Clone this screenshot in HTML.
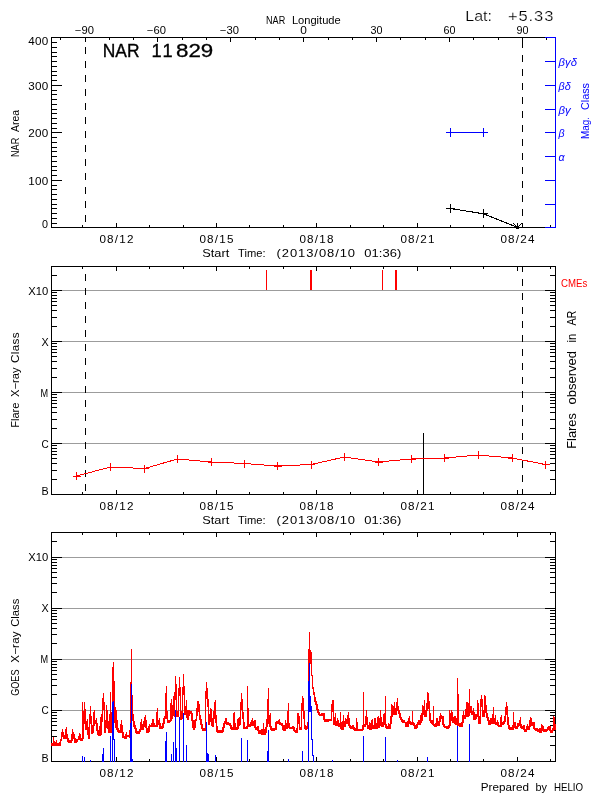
<!DOCTYPE html>
<html><head><meta charset="utf-8"><title>NAR 11829</title>
<style>
html,body{margin:0;padding:0;background:#fff;}
svg{display:block;font-family:"Liberation Sans",sans-serif;will-change:transform;}
rect,polyline,path{shape-rendering:crispEdges;}
</style></head><body>
<svg width="600" height="800" viewBox="0 0 600 800">
<rect x="0" y="0" width="600" height="800" fill="#ffffff"/>
<rect x="51" y="37" width="505" height="1" fill="#000"/>
<rect x="51" y="227" width="505" height="1" fill="#000"/>
<rect x="51" y="37" width="1" height="191" fill="#000"/>
<rect x="555" y="37" width="1" height="191" fill="#000"/>
<rect x="545" y="37" width="11" height="1" fill="#0000ff"/>
<rect x="545" y="227" width="11" height="1" fill="#0000ff"/>
<rect x="555" y="37" width="1" height="191" fill="#0000ff"/>
<rect x="82" y="225" width="1" height="2" fill="#000"/>
<rect x="116" y="223" width="1" height="4" fill="#000"/>
<text transform="translate(99.4 242.7) scale(1.1 1)" font-size="10.6" fill="#000" textLength="30.9" lengthAdjust="spacing" >08/12</text>
<rect x="149" y="225" width="1" height="2" fill="#000"/>
<rect x="183" y="225" width="1" height="2" fill="#000"/>
<rect x="216" y="223" width="1" height="4" fill="#000"/>
<text transform="translate(199.4 242.7) scale(1.1 1)" font-size="10.6" fill="#000" textLength="30.9" lengthAdjust="spacing" >08/15</text>
<rect x="249" y="225" width="1" height="2" fill="#000"/>
<rect x="283" y="225" width="1" height="2" fill="#000"/>
<rect x="316" y="223" width="1" height="4" fill="#000"/>
<text transform="translate(299.4 242.7) scale(1.1 1)" font-size="10.6" fill="#000" textLength="30.9" lengthAdjust="spacing" >08/18</text>
<rect x="350" y="225" width="1" height="2" fill="#000"/>
<rect x="383" y="225" width="1" height="2" fill="#000"/>
<rect x="417" y="223" width="1" height="4" fill="#000"/>
<text transform="translate(400.4 242.7) scale(1.1 1)" font-size="10.6" fill="#000" textLength="30.9" lengthAdjust="spacing" >08/21</text>
<rect x="450" y="225" width="1" height="2" fill="#000"/>
<rect x="483" y="225" width="1" height="2" fill="#000"/>
<rect x="517" y="223" width="1" height="4" fill="#000"/>
<text transform="translate(500.4 242.7) scale(1.1 1)" font-size="10.6" fill="#000" textLength="30.9" lengthAdjust="spacing" >08/24</text>
<rect x="550" y="225" width="1" height="2" fill="#000"/>
<rect x="60" y="38" width="1" height="2" fill="#000"/>
<rect x="85" y="38" width="1" height="4" fill="#000"/>
<text x="75.0" y="34.0" font-size="10.2" fill="#000" textLength="19.0" lengthAdjust="spacingAndGlyphs" >&#8722;90</text>
<rect x="109" y="38" width="1" height="2" fill="#000"/>
<rect x="133" y="38" width="1" height="2" fill="#000"/>
<rect x="157" y="38" width="1" height="4" fill="#000"/>
<text x="147.0" y="34.0" font-size="10.2" fill="#000" textLength="19.0" lengthAdjust="spacingAndGlyphs" >&#8722;60</text>
<rect x="182" y="38" width="1" height="2" fill="#000"/>
<rect x="206" y="38" width="1" height="2" fill="#000"/>
<rect x="230" y="38" width="1" height="4" fill="#000"/>
<text x="220.0" y="34.0" font-size="10.2" fill="#000" textLength="19.0" lengthAdjust="spacingAndGlyphs" >&#8722;30</text>
<rect x="255" y="38" width="1" height="2" fill="#000"/>
<rect x="279" y="38" width="1" height="2" fill="#000"/>
<rect x="303" y="38" width="1" height="4" fill="#000"/>
<text x="300.2" y="34.0" font-size="10.2" fill="#000" textLength="6.6" lengthAdjust="spacingAndGlyphs" >0</text>
<rect x="328" y="38" width="1" height="2" fill="#000"/>
<rect x="352" y="38" width="1" height="2" fill="#000"/>
<rect x="376" y="38" width="1" height="4" fill="#000"/>
<text x="370.5" y="34.0" font-size="10.2" fill="#000" textLength="12.0" lengthAdjust="spacingAndGlyphs" >30</text>
<rect x="400" y="38" width="1" height="2" fill="#000"/>
<rect x="425" y="38" width="1" height="2" fill="#000"/>
<rect x="449" y="38" width="1" height="4" fill="#000"/>
<text x="443.5" y="34.0" font-size="10.2" fill="#000" textLength="12.0" lengthAdjust="spacingAndGlyphs" >60</text>
<rect x="473" y="38" width="1" height="2" fill="#000"/>
<rect x="498" y="38" width="1" height="2" fill="#000"/>
<rect x="522" y="38" width="1" height="4" fill="#000"/>
<text x="516.5" y="34.0" font-size="10.2" fill="#000" textLength="12.0" lengthAdjust="spacingAndGlyphs" >90</text>
<rect x="546" y="38" width="1" height="2" fill="#000"/>
<rect x="51" y="223" width="6" height="1" fill="#000"/>
<rect x="51" y="218" width="6" height="1" fill="#000"/>
<rect x="51" y="213" width="6" height="1" fill="#000"/>
<rect x="51" y="208" width="6" height="1" fill="#000"/>
<rect x="51" y="204" width="6" height="1" fill="#000"/>
<rect x="51" y="199" width="6" height="1" fill="#000"/>
<rect x="51" y="194" width="6" height="1" fill="#000"/>
<rect x="51" y="189" width="6" height="1" fill="#000"/>
<rect x="51" y="185" width="6" height="1" fill="#000"/>
<rect x="51" y="180" width="11" height="1" fill="#000"/>
<rect x="51" y="175" width="6" height="1" fill="#000"/>
<rect x="51" y="170" width="6" height="1" fill="#000"/>
<rect x="51" y="166" width="6" height="1" fill="#000"/>
<rect x="51" y="161" width="6" height="1" fill="#000"/>
<rect x="51" y="156" width="6" height="1" fill="#000"/>
<rect x="51" y="151" width="6" height="1" fill="#000"/>
<rect x="51" y="147" width="6" height="1" fill="#000"/>
<rect x="51" y="142" width="6" height="1" fill="#000"/>
<rect x="51" y="137" width="6" height="1" fill="#000"/>
<rect x="51" y="132" width="11" height="1" fill="#000"/>
<rect x="51" y="128" width="6" height="1" fill="#000"/>
<rect x="51" y="123" width="6" height="1" fill="#000"/>
<rect x="51" y="118" width="6" height="1" fill="#000"/>
<rect x="51" y="113" width="6" height="1" fill="#000"/>
<rect x="51" y="109" width="6" height="1" fill="#000"/>
<rect x="51" y="104" width="6" height="1" fill="#000"/>
<rect x="51" y="99" width="6" height="1" fill="#000"/>
<rect x="51" y="94" width="6" height="1" fill="#000"/>
<rect x="51" y="90" width="6" height="1" fill="#000"/>
<rect x="51" y="85" width="11" height="1" fill="#000"/>
<rect x="51" y="80" width="6" height="1" fill="#000"/>
<rect x="51" y="75" width="6" height="1" fill="#000"/>
<rect x="51" y="71" width="6" height="1" fill="#000"/>
<rect x="51" y="66" width="6" height="1" fill="#000"/>
<rect x="51" y="61" width="6" height="1" fill="#000"/>
<rect x="51" y="56" width="6" height="1" fill="#000"/>
<rect x="51" y="52" width="6" height="1" fill="#000"/>
<rect x="51" y="47" width="6" height="1" fill="#000"/>
<rect x="51" y="42" width="6" height="1" fill="#000"/>
<text transform="translate(28.2 44.8) scale(1.1 1)" font-size="10.6" fill="#000" textLength="18.2" lengthAdjust="spacing" >400</text>
<text transform="translate(28.2 89.7) scale(1.1 1)" font-size="10.6" fill="#000" textLength="18.2" lengthAdjust="spacing" >300</text>
<text transform="translate(28.2 137.0) scale(1.1 1)" font-size="10.6" fill="#000" textLength="18.2" lengthAdjust="spacing" >200</text>
<text transform="translate(28.2 184.7) scale(1.1 1)" font-size="10.6" fill="#000" textLength="18.2" lengthAdjust="spacing" >100</text>
<text x="42.0" y="227.8" font-size="10.6" fill="#000" textLength="6.0" lengthAdjust="spacingAndGlyphs" >0</text>
<rect x="545" y="204" width="11" height="1" fill="#0000ff"/>
<rect x="545" y="180" width="11" height="1" fill="#0000ff"/>
<rect x="545" y="156" width="11" height="1" fill="#0000ff"/>
<text x="558.6" y="160.6" font-size="10.0" fill="#0000ff" textLength="6.1" lengthAdjust="spacingAndGlyphs" font-style="italic">&#945;</text>
<rect x="545" y="132" width="11" height="1" fill="#0000ff"/>
<text x="558.6" y="136.6" font-size="10.0" fill="#0000ff" textLength="6.1" lengthAdjust="spacingAndGlyphs" font-style="italic">&#946;</text>
<rect x="545" y="109" width="11" height="1" fill="#0000ff"/>
<text x="558.6" y="113.6" font-size="10.0" fill="#0000ff" textLength="12.2" lengthAdjust="spacingAndGlyphs" font-style="italic">&#946;&#947;</text>
<rect x="545" y="85" width="11" height="1" fill="#0000ff"/>
<text x="558.6" y="89.6" font-size="10.0" fill="#0000ff" textLength="12.2" lengthAdjust="spacingAndGlyphs" font-style="italic">&#946;&#948;</text>
<rect x="545" y="61" width="11" height="1" fill="#0000ff"/>
<text x="558.6" y="65.6" font-size="10.0" fill="#0000ff" textLength="18.3" lengthAdjust="spacingAndGlyphs" font-style="italic">&#946;&#947;&#948;</text>
<text transform="translate(589.3 139.0) rotate(-90)" font-size="10.6" fill="#0000ff" textLength="22.0" lengthAdjust="spacingAndGlyphs">Mag.</text>
<text transform="translate(589.3 110.0) rotate(-90)" font-size="10.6" fill="#0000ff" textLength="26.9" lengthAdjust="spacingAndGlyphs">Class</text>
<text transform="translate(19.4 157.0) rotate(-90)" font-size="10.6" fill="#000" textLength="19.2" lengthAdjust="spacingAndGlyphs">NAR</text>
<text transform="translate(19.4 132.0) rotate(-90)" font-size="10.6" fill="#000" textLength="22.0" lengthAdjust="spacingAndGlyphs">Area</text>
<text x="266.0" y="24.0" font-size="10.6" fill="#000" textLength="19.2" lengthAdjust="spacingAndGlyphs" >NAR</text>
<text x="291.9" y="24.0" font-size="10.6" fill="#000" textLength="48.8" lengthAdjust="spacingAndGlyphs" >Longitude</text>
<text x="465.3" y="20.8" font-size="15" fill="#000" textLength="26.7" lengthAdjust="spacingAndGlyphs" stroke="#fff" stroke-width="0.2">Lat:</text>
<text transform="translate(508.0 20.8) scale(1.1 1)" font-size="15" fill="#000" textLength="41.2" lengthAdjust="spacing" stroke="#fff" stroke-width="0.2">+5.33</text>
<text x="102.8" y="57.4" font-size="18.2" fill="#000" textLength="36.7" lengthAdjust="spacingAndGlyphs" stroke="#000" stroke-width="0.35">NAR</text>
<text x="151.5" y="57.4" font-size="18.2" fill="#000" textLength="21.0" lengthAdjust="spacing" stroke="#000" stroke-width="0.35">11</text>
<text x="176.0" y="57.4" font-size="18.2" fill="#000" textLength="37.3" lengthAdjust="spacingAndGlyphs" stroke="#000" stroke-width="0.3">829</text>
<text x="202.3" y="257.0" font-size="11.8" fill="#000" textLength="27.0" lengthAdjust="spacingAndGlyphs" >Start</text>
<text x="238.1" y="257.0" font-size="11.8" fill="#000" textLength="27.5" lengthAdjust="spacingAndGlyphs" >Time:</text>
<text transform="translate(276.6 257.0) scale(1.1 1)" font-size="11.8" fill="#000" textLength="71.3" lengthAdjust="spacing" >(2013/08/10</text>
<text transform="translate(364.2 257.0) scale(1.1 1)" font-size="11.8" fill="#000" textLength="33.8" lengthAdjust="spacing" >01:36)</text>
<rect x="85" y="38" width="1" height="2" fill="#000"/>
<rect x="85" y="47" width="1" height="7" fill="#000"/>
<rect x="85" y="61" width="1" height="7" fill="#000"/>
<rect x="85" y="75" width="1" height="7" fill="#000"/>
<rect x="85" y="89" width="1" height="7" fill="#000"/>
<rect x="85" y="103" width="1" height="7" fill="#000"/>
<rect x="85" y="117" width="1" height="7" fill="#000"/>
<rect x="85" y="131" width="1" height="7" fill="#000"/>
<rect x="85" y="145" width="1" height="7" fill="#000"/>
<rect x="85" y="159" width="1" height="7" fill="#000"/>
<rect x="85" y="173" width="1" height="7" fill="#000"/>
<rect x="85" y="187" width="1" height="7" fill="#000"/>
<rect x="85" y="201" width="1" height="7" fill="#000"/>
<rect x="85" y="215" width="1" height="7" fill="#000"/>
<rect x="522" y="41" width="1" height="7" fill="#000"/>
<rect x="522" y="55" width="1" height="7" fill="#000"/>
<rect x="522" y="69" width="1" height="7" fill="#000"/>
<rect x="522" y="83" width="1" height="7" fill="#000"/>
<rect x="522" y="97" width="1" height="7" fill="#000"/>
<rect x="522" y="111" width="1" height="7" fill="#000"/>
<rect x="522" y="125" width="1" height="7" fill="#000"/>
<rect x="522" y="139" width="1" height="7" fill="#000"/>
<rect x="522" y="153" width="1" height="7" fill="#000"/>
<rect x="522" y="167" width="1" height="7" fill="#000"/>
<rect x="522" y="181" width="1" height="7" fill="#000"/>
<rect x="522" y="195" width="1" height="7" fill="#000"/>
<rect x="522" y="209" width="1" height="7" fill="#000"/>
<rect x="522" y="223" width="1" height="4" fill="#000"/>
<rect x="446" y="132" width="42" height="1" fill="#0000ff"/>
<rect x="450" y="128" width="1" height="9" fill="#0000ff"/>
<rect x="483" y="128" width="1" height="9" fill="#0000ff"/>
<polyline points="450.5,208.5 483.5,213.8 517.5,227.5" fill="none" stroke="#000" stroke-width="1.1" />
<rect x="446" y="208" width="9" height="1" fill="#000"/>
<rect x="450" y="204" width="1" height="9" fill="#000"/>
<rect x="479" y="213" width="9" height="1" fill="#000"/>
<rect x="483" y="209" width="1" height="9" fill="#000"/>
<polyline points="513.5,223.5 517.5,227.5 521.5,223.5" fill="none" stroke="#000" stroke-width="1.1" />
<rect x="516" y="227" width="3" height="2" fill="#000"/>
<rect x="52" y="443" width="503" height="1" fill="#9c9c9c"/>
<rect x="52" y="392" width="503" height="1" fill="#9c9c9c"/>
<rect x="52" y="341" width="503" height="1" fill="#9c9c9c"/>
<rect x="52" y="290" width="503" height="1" fill="#9c9c9c"/>
<rect x="51" y="479" width="6" height="1" fill="#000"/>
<rect x="550" y="479" width="6" height="1" fill="#000"/>
<rect x="51" y="470" width="6" height="1" fill="#000"/>
<rect x="550" y="470" width="6" height="1" fill="#000"/>
<rect x="51" y="463" width="6" height="1" fill="#000"/>
<rect x="550" y="463" width="6" height="1" fill="#000"/>
<rect x="51" y="458" width="6" height="1" fill="#000"/>
<rect x="550" y="458" width="6" height="1" fill="#000"/>
<rect x="51" y="454" width="6" height="1" fill="#000"/>
<rect x="550" y="454" width="6" height="1" fill="#000"/>
<rect x="51" y="451" width="6" height="1" fill="#000"/>
<rect x="550" y="451" width="6" height="1" fill="#000"/>
<rect x="51" y="448" width="6" height="1" fill="#000"/>
<rect x="550" y="448" width="6" height="1" fill="#000"/>
<rect x="51" y="445" width="6" height="1" fill="#000"/>
<rect x="550" y="445" width="6" height="1" fill="#000"/>
<rect x="51" y="443" width="11" height="1" fill="#000"/>
<rect x="545" y="443" width="11" height="1" fill="#000"/>
<rect x="51" y="428" width="6" height="1" fill="#000"/>
<rect x="550" y="428" width="6" height="1" fill="#000"/>
<rect x="51" y="419" width="6" height="1" fill="#000"/>
<rect x="550" y="419" width="6" height="1" fill="#000"/>
<rect x="51" y="412" width="6" height="1" fill="#000"/>
<rect x="550" y="412" width="6" height="1" fill="#000"/>
<rect x="51" y="407" width="6" height="1" fill="#000"/>
<rect x="550" y="407" width="6" height="1" fill="#000"/>
<rect x="51" y="403" width="6" height="1" fill="#000"/>
<rect x="550" y="403" width="6" height="1" fill="#000"/>
<rect x="51" y="400" width="6" height="1" fill="#000"/>
<rect x="550" y="400" width="6" height="1" fill="#000"/>
<rect x="51" y="397" width="6" height="1" fill="#000"/>
<rect x="550" y="397" width="6" height="1" fill="#000"/>
<rect x="51" y="394" width="6" height="1" fill="#000"/>
<rect x="550" y="394" width="6" height="1" fill="#000"/>
<rect x="51" y="392" width="11" height="1" fill="#000"/>
<rect x="545" y="392" width="11" height="1" fill="#000"/>
<rect x="51" y="377" width="6" height="1" fill="#000"/>
<rect x="550" y="377" width="6" height="1" fill="#000"/>
<rect x="51" y="368" width="6" height="1" fill="#000"/>
<rect x="550" y="368" width="6" height="1" fill="#000"/>
<rect x="51" y="361" width="6" height="1" fill="#000"/>
<rect x="550" y="361" width="6" height="1" fill="#000"/>
<rect x="51" y="356" width="6" height="1" fill="#000"/>
<rect x="550" y="356" width="6" height="1" fill="#000"/>
<rect x="51" y="352" width="6" height="1" fill="#000"/>
<rect x="550" y="352" width="6" height="1" fill="#000"/>
<rect x="51" y="349" width="6" height="1" fill="#000"/>
<rect x="550" y="349" width="6" height="1" fill="#000"/>
<rect x="51" y="346" width="6" height="1" fill="#000"/>
<rect x="550" y="346" width="6" height="1" fill="#000"/>
<rect x="51" y="343" width="6" height="1" fill="#000"/>
<rect x="550" y="343" width="6" height="1" fill="#000"/>
<rect x="51" y="341" width="11" height="1" fill="#000"/>
<rect x="545" y="341" width="11" height="1" fill="#000"/>
<rect x="51" y="326" width="6" height="1" fill="#000"/>
<rect x="550" y="326" width="6" height="1" fill="#000"/>
<rect x="51" y="317" width="6" height="1" fill="#000"/>
<rect x="550" y="317" width="6" height="1" fill="#000"/>
<rect x="51" y="310" width="6" height="1" fill="#000"/>
<rect x="550" y="310" width="6" height="1" fill="#000"/>
<rect x="51" y="305" width="6" height="1" fill="#000"/>
<rect x="550" y="305" width="6" height="1" fill="#000"/>
<rect x="51" y="301" width="6" height="1" fill="#000"/>
<rect x="550" y="301" width="6" height="1" fill="#000"/>
<rect x="51" y="298" width="6" height="1" fill="#000"/>
<rect x="550" y="298" width="6" height="1" fill="#000"/>
<rect x="51" y="295" width="6" height="1" fill="#000"/>
<rect x="550" y="295" width="6" height="1" fill="#000"/>
<rect x="51" y="292" width="6" height="1" fill="#000"/>
<rect x="550" y="292" width="6" height="1" fill="#000"/>
<rect x="51" y="290" width="11" height="1" fill="#000"/>
<rect x="545" y="290" width="11" height="1" fill="#000"/>
<rect x="51" y="275" width="6" height="1" fill="#000"/>
<rect x="550" y="275" width="6" height="1" fill="#000"/>
<text x="41.4" y="494.6" font-size="10.6" fill="#000" textLength="7.2" lengthAdjust="spacingAndGlyphs" >B</text>
<text x="41.4" y="447.6" font-size="10.6" fill="#000" textLength="7.2" lengthAdjust="spacingAndGlyphs" >C</text>
<text x="40.4" y="396.6" font-size="10.6" fill="#000" textLength="7.6" lengthAdjust="spacingAndGlyphs" >M</text>
<text x="41.4" y="345.6" font-size="10.6" fill="#000" textLength="7.2" lengthAdjust="spacingAndGlyphs" >X</text>
<text x="28.2" y="294.6" font-size="10.6" fill="#000" textLength="20.0" lengthAdjust="spacingAndGlyphs" >X10</text>
<rect x="51" y="266" width="505" height="1" fill="#000"/>
<rect x="51" y="494" width="505" height="1" fill="#000"/>
<rect x="51" y="266" width="1" height="229" fill="#000"/>
<rect x="555" y="266" width="1" height="229" fill="#000"/>
<rect x="82" y="492" width="1" height="2" fill="#000"/>
<rect x="82" y="267" width="1" height="2" fill="#000"/>
<rect x="116" y="490" width="1" height="4" fill="#000"/>
<rect x="116" y="267" width="1" height="4" fill="#000"/>
<text transform="translate(99.4 509.7) scale(1.1 1)" font-size="10.6" fill="#000" textLength="30.9" lengthAdjust="spacing" >08/12</text>
<rect x="149" y="492" width="1" height="2" fill="#000"/>
<rect x="149" y="267" width="1" height="2" fill="#000"/>
<rect x="183" y="492" width="1" height="2" fill="#000"/>
<rect x="183" y="267" width="1" height="2" fill="#000"/>
<rect x="216" y="490" width="1" height="4" fill="#000"/>
<rect x="216" y="267" width="1" height="4" fill="#000"/>
<text transform="translate(199.4 509.7) scale(1.1 1)" font-size="10.6" fill="#000" textLength="30.9" lengthAdjust="spacing" >08/15</text>
<rect x="249" y="492" width="1" height="2" fill="#000"/>
<rect x="249" y="267" width="1" height="2" fill="#000"/>
<rect x="283" y="492" width="1" height="2" fill="#000"/>
<rect x="283" y="267" width="1" height="2" fill="#000"/>
<rect x="316" y="490" width="1" height="4" fill="#000"/>
<rect x="316" y="267" width="1" height="4" fill="#000"/>
<text transform="translate(299.4 509.7) scale(1.1 1)" font-size="10.6" fill="#000" textLength="30.9" lengthAdjust="spacing" >08/18</text>
<rect x="350" y="492" width="1" height="2" fill="#000"/>
<rect x="350" y="267" width="1" height="2" fill="#000"/>
<rect x="383" y="492" width="1" height="2" fill="#000"/>
<rect x="383" y="267" width="1" height="2" fill="#000"/>
<rect x="417" y="490" width="1" height="4" fill="#000"/>
<rect x="417" y="267" width="1" height="4" fill="#000"/>
<text transform="translate(400.4 509.7) scale(1.1 1)" font-size="10.6" fill="#000" textLength="30.9" lengthAdjust="spacing" >08/21</text>
<rect x="450" y="492" width="1" height="2" fill="#000"/>
<rect x="450" y="267" width="1" height="2" fill="#000"/>
<rect x="483" y="492" width="1" height="2" fill="#000"/>
<rect x="483" y="267" width="1" height="2" fill="#000"/>
<rect x="517" y="490" width="1" height="4" fill="#000"/>
<rect x="517" y="267" width="1" height="4" fill="#000"/>
<text transform="translate(500.4 509.7) scale(1.1 1)" font-size="10.6" fill="#000" textLength="30.9" lengthAdjust="spacing" >08/24</text>
<rect x="550" y="492" width="1" height="2" fill="#000"/>
<rect x="550" y="267" width="1" height="2" fill="#000"/>
<rect x="85" y="274" width="1" height="7" fill="#000"/>
<rect x="85" y="288" width="1" height="7" fill="#000"/>
<rect x="85" y="302" width="1" height="7" fill="#000"/>
<rect x="85" y="316" width="1" height="7" fill="#000"/>
<rect x="85" y="330" width="1" height="7" fill="#000"/>
<rect x="85" y="344" width="1" height="7" fill="#000"/>
<rect x="85" y="358" width="1" height="7" fill="#000"/>
<rect x="85" y="372" width="1" height="7" fill="#000"/>
<rect x="85" y="386" width="1" height="7" fill="#000"/>
<rect x="85" y="400" width="1" height="7" fill="#000"/>
<rect x="85" y="414" width="1" height="7" fill="#000"/>
<rect x="85" y="428" width="1" height="7" fill="#000"/>
<rect x="85" y="442" width="1" height="7" fill="#000"/>
<rect x="85" y="456" width="1" height="7" fill="#000"/>
<rect x="85" y="470" width="1" height="7" fill="#000"/>
<rect x="85" y="484" width="1" height="7" fill="#000"/>
<rect x="522" y="267" width="1" height="5" fill="#000"/>
<rect x="522" y="279" width="1" height="7" fill="#000"/>
<rect x="522" y="293" width="1" height="7" fill="#000"/>
<rect x="522" y="307" width="1" height="7" fill="#000"/>
<rect x="522" y="321" width="1" height="7" fill="#000"/>
<rect x="522" y="335" width="1" height="7" fill="#000"/>
<rect x="522" y="349" width="1" height="7" fill="#000"/>
<rect x="522" y="363" width="1" height="7" fill="#000"/>
<rect x="522" y="377" width="1" height="7" fill="#000"/>
<rect x="522" y="391" width="1" height="7" fill="#000"/>
<rect x="522" y="405" width="1" height="7" fill="#000"/>
<rect x="522" y="419" width="1" height="7" fill="#000"/>
<rect x="522" y="433" width="1" height="7" fill="#000"/>
<rect x="522" y="447" width="1" height="7" fill="#000"/>
<rect x="522" y="461" width="1" height="7" fill="#000"/>
<rect x="522" y="475" width="1" height="7" fill="#000"/>
<rect x="522" y="489" width="1" height="5" fill="#000"/>
<text transform="translate(19.4 427.8) rotate(-90)" font-size="10.6" fill="#000" textLength="25.3" lengthAdjust="spacingAndGlyphs">Flare</text>
<text transform="translate(19.4 396.9) rotate(-90)" font-size="10.6" fill="#000" textLength="29.4" lengthAdjust="spacingAndGlyphs">X&#8722;ray</text>
<text transform="translate(19.4 363.1) rotate(-90) scale(1.1 1)" font-size="10.6" fill="#000" textLength="27.8" lengthAdjust="spacing">Class</text>
<text transform="translate(576.3 448.8) rotate(-90)" font-size="13.2" fill="#000" textLength="35.7" lengthAdjust="spacingAndGlyphs">Flares</text>
<text transform="translate(576.3 404.4) rotate(-90)" font-size="13.2" fill="#000" textLength="53.4" lengthAdjust="spacingAndGlyphs">observed</text>
<text transform="translate(576.3 342.5) rotate(-90)" font-size="13.2" fill="#000" textLength="8.7" lengthAdjust="spacingAndGlyphs">in</text>
<text transform="translate(576.3 325.6) rotate(-90)" font-size="13.2" fill="#000" textLength="15.0" lengthAdjust="spacingAndGlyphs">AR</text>
<text x="561.0" y="286.7" font-size="10.4" fill="#ff0000" textLength="26.3" lengthAdjust="spacingAndGlyphs" >CMEs</text>
<text x="202.3" y="524.0" font-size="11.8" fill="#000" textLength="27.0" lengthAdjust="spacingAndGlyphs" >Start</text>
<text x="238.1" y="524.0" font-size="11.8" fill="#000" textLength="27.5" lengthAdjust="spacingAndGlyphs" >Time:</text>
<text transform="translate(276.6 524.0) scale(1.1 1)" font-size="11.8" fill="#000" textLength="71.3" lengthAdjust="spacing" >(2013/08/10</text>
<text transform="translate(364.2 524.0) scale(1.1 1)" font-size="11.8" fill="#000" textLength="33.8" lengthAdjust="spacing" >01:36)</text>
<rect x="266" y="270" width="1" height="20" fill="#ff0000"/>
<rect x="310" y="270" width="2" height="20" fill="#ff0000"/>
<rect x="382" y="270" width="1" height="20" fill="#ff0000"/>
<rect x="395" y="270" width="2" height="20" fill="#ff0000"/>
<rect x="423" y="433" width="1" height="62" fill="#000"/>
<polyline points="76.5,476.0 110.5,467.0 144.5,468.5 177.5,459.0 211.5,462.0 244.5,463.5 277.5,466.0 311.0,464.5 344.5,457.0 378.5,462.0 411.5,459.0 444.5,458.0 478.0,455.0 512.0,458.0 545.5,464.5" fill="none" stroke="#ff0000" stroke-width="1" />
<path d="M72.5 476.0H80.5M76.5 472.0V480.0" stroke="#ff0000" stroke-width="1" fill="none"/>
<path d="M106.5 467.0H114.5M110.5 463.0V471.0" stroke="#ff0000" stroke-width="1" fill="none"/>
<path d="M140.5 468.5H148.5M144.5 464.5V472.5" stroke="#ff0000" stroke-width="1" fill="none"/>
<path d="M173.5 459.0H181.5M177.5 455.0V463.0" stroke="#ff0000" stroke-width="1" fill="none"/>
<path d="M207.5 462.0H215.5M211.5 458.0V466.0" stroke="#ff0000" stroke-width="1" fill="none"/>
<path d="M240.5 463.5H248.5M244.5 459.5V467.5" stroke="#ff0000" stroke-width="1" fill="none"/>
<path d="M273.5 466.0H281.5M277.5 462.0V470.0" stroke="#ff0000" stroke-width="1" fill="none"/>
<path d="M307.0 464.5H315.0M311.0 460.5V468.5" stroke="#ff0000" stroke-width="1" fill="none"/>
<path d="M340.5 457.0H348.5M344.5 453.0V461.0" stroke="#ff0000" stroke-width="1" fill="none"/>
<path d="M374.5 462.0H382.5M378.5 458.0V466.0" stroke="#ff0000" stroke-width="1" fill="none"/>
<path d="M407.5 459.0H415.5M411.5 455.0V463.0" stroke="#ff0000" stroke-width="1" fill="none"/>
<path d="M440.5 458.0H448.5M444.5 454.0V462.0" stroke="#ff0000" stroke-width="1" fill="none"/>
<path d="M474.0 455.0H482.0M478.0 451.0V459.0" stroke="#ff0000" stroke-width="1" fill="none"/>
<path d="M508.0 458.0H516.0M512.0 454.0V462.0" stroke="#ff0000" stroke-width="1" fill="none"/>
<path d="M541.5 464.5H549.5M545.5 460.5V468.5" stroke="#ff0000" stroke-width="1" fill="none"/>
<rect x="52" y="710" width="503" height="1" fill="#9c9c9c"/>
<rect x="52" y="659" width="503" height="1" fill="#9c9c9c"/>
<rect x="52" y="608" width="503" height="1" fill="#9c9c9c"/>
<rect x="52" y="557" width="503" height="1" fill="#9c9c9c"/>
<rect x="51" y="745" width="6" height="1" fill="#000"/>
<rect x="550" y="745" width="6" height="1" fill="#000"/>
<rect x="51" y="736" width="6" height="1" fill="#000"/>
<rect x="550" y="736" width="6" height="1" fill="#000"/>
<rect x="51" y="730" width="6" height="1" fill="#000"/>
<rect x="550" y="730" width="6" height="1" fill="#000"/>
<rect x="51" y="725" width="6" height="1" fill="#000"/>
<rect x="550" y="725" width="6" height="1" fill="#000"/>
<rect x="51" y="721" width="6" height="1" fill="#000"/>
<rect x="550" y="721" width="6" height="1" fill="#000"/>
<rect x="51" y="718" width="6" height="1" fill="#000"/>
<rect x="550" y="718" width="6" height="1" fill="#000"/>
<rect x="51" y="715" width="6" height="1" fill="#000"/>
<rect x="550" y="715" width="6" height="1" fill="#000"/>
<rect x="51" y="712" width="6" height="1" fill="#000"/>
<rect x="550" y="712" width="6" height="1" fill="#000"/>
<rect x="51" y="710" width="11" height="1" fill="#000"/>
<rect x="545" y="710" width="11" height="1" fill="#000"/>
<rect x="51" y="694" width="6" height="1" fill="#000"/>
<rect x="550" y="694" width="6" height="1" fill="#000"/>
<rect x="51" y="685" width="6" height="1" fill="#000"/>
<rect x="550" y="685" width="6" height="1" fill="#000"/>
<rect x="51" y="679" width="6" height="1" fill="#000"/>
<rect x="550" y="679" width="6" height="1" fill="#000"/>
<rect x="51" y="674" width="6" height="1" fill="#000"/>
<rect x="550" y="674" width="6" height="1" fill="#000"/>
<rect x="51" y="670" width="6" height="1" fill="#000"/>
<rect x="550" y="670" width="6" height="1" fill="#000"/>
<rect x="51" y="667" width="6" height="1" fill="#000"/>
<rect x="550" y="667" width="6" height="1" fill="#000"/>
<rect x="51" y="664" width="6" height="1" fill="#000"/>
<rect x="550" y="664" width="6" height="1" fill="#000"/>
<rect x="51" y="661" width="6" height="1" fill="#000"/>
<rect x="550" y="661" width="6" height="1" fill="#000"/>
<rect x="51" y="659" width="11" height="1" fill="#000"/>
<rect x="545" y="659" width="11" height="1" fill="#000"/>
<rect x="51" y="643" width="6" height="1" fill="#000"/>
<rect x="550" y="643" width="6" height="1" fill="#000"/>
<rect x="51" y="634" width="6" height="1" fill="#000"/>
<rect x="550" y="634" width="6" height="1" fill="#000"/>
<rect x="51" y="628" width="6" height="1" fill="#000"/>
<rect x="550" y="628" width="6" height="1" fill="#000"/>
<rect x="51" y="623" width="6" height="1" fill="#000"/>
<rect x="550" y="623" width="6" height="1" fill="#000"/>
<rect x="51" y="619" width="6" height="1" fill="#000"/>
<rect x="550" y="619" width="6" height="1" fill="#000"/>
<rect x="51" y="616" width="6" height="1" fill="#000"/>
<rect x="550" y="616" width="6" height="1" fill="#000"/>
<rect x="51" y="613" width="6" height="1" fill="#000"/>
<rect x="550" y="613" width="6" height="1" fill="#000"/>
<rect x="51" y="610" width="6" height="1" fill="#000"/>
<rect x="550" y="610" width="6" height="1" fill="#000"/>
<rect x="51" y="608" width="11" height="1" fill="#000"/>
<rect x="545" y="608" width="11" height="1" fill="#000"/>
<rect x="51" y="592" width="6" height="1" fill="#000"/>
<rect x="550" y="592" width="6" height="1" fill="#000"/>
<rect x="51" y="583" width="6" height="1" fill="#000"/>
<rect x="550" y="583" width="6" height="1" fill="#000"/>
<rect x="51" y="577" width="6" height="1" fill="#000"/>
<rect x="550" y="577" width="6" height="1" fill="#000"/>
<rect x="51" y="572" width="6" height="1" fill="#000"/>
<rect x="550" y="572" width="6" height="1" fill="#000"/>
<rect x="51" y="568" width="6" height="1" fill="#000"/>
<rect x="550" y="568" width="6" height="1" fill="#000"/>
<rect x="51" y="565" width="6" height="1" fill="#000"/>
<rect x="550" y="565" width="6" height="1" fill="#000"/>
<rect x="51" y="562" width="6" height="1" fill="#000"/>
<rect x="550" y="562" width="6" height="1" fill="#000"/>
<rect x="51" y="559" width="6" height="1" fill="#000"/>
<rect x="550" y="559" width="6" height="1" fill="#000"/>
<rect x="51" y="557" width="11" height="1" fill="#000"/>
<rect x="545" y="557" width="11" height="1" fill="#000"/>
<rect x="51" y="541" width="6" height="1" fill="#000"/>
<rect x="550" y="541" width="6" height="1" fill="#000"/>
<text x="41.4" y="761.6" font-size="10.6" fill="#000" textLength="7.2" lengthAdjust="spacingAndGlyphs" >B</text>
<text x="41.4" y="713.7" font-size="10.6" fill="#000" textLength="7.2" lengthAdjust="spacingAndGlyphs" >C</text>
<text x="40.4" y="662.7" font-size="10.6" fill="#000" textLength="7.6" lengthAdjust="spacingAndGlyphs" >M</text>
<text x="41.4" y="611.7" font-size="10.6" fill="#000" textLength="7.2" lengthAdjust="spacingAndGlyphs" >X</text>
<text x="28.2" y="560.7" font-size="10.6" fill="#000" textLength="20.0" lengthAdjust="spacingAndGlyphs" >X10</text>
<rect x="51" y="532" width="505" height="1" fill="#000"/>
<rect x="51" y="761" width="505" height="1" fill="#000"/>
<rect x="51" y="532" width="1" height="230" fill="#000"/>
<rect x="555" y="532" width="1" height="230" fill="#000"/>
<rect x="82" y="759" width="1" height="2" fill="#000"/>
<rect x="82" y="533" width="1" height="2" fill="#000"/>
<rect x="116" y="757" width="1" height="4" fill="#000"/>
<rect x="116" y="533" width="1" height="4" fill="#000"/>
<text transform="translate(99.4 776.7) scale(1.1 1)" font-size="10.6" fill="#000" textLength="30.9" lengthAdjust="spacing" >08/12</text>
<rect x="149" y="759" width="1" height="2" fill="#000"/>
<rect x="149" y="533" width="1" height="2" fill="#000"/>
<rect x="183" y="759" width="1" height="2" fill="#000"/>
<rect x="183" y="533" width="1" height="2" fill="#000"/>
<rect x="216" y="757" width="1" height="4" fill="#000"/>
<rect x="216" y="533" width="1" height="4" fill="#000"/>
<text transform="translate(199.4 776.7) scale(1.1 1)" font-size="10.6" fill="#000" textLength="30.9" lengthAdjust="spacing" >08/15</text>
<rect x="249" y="759" width="1" height="2" fill="#000"/>
<rect x="249" y="533" width="1" height="2" fill="#000"/>
<rect x="283" y="759" width="1" height="2" fill="#000"/>
<rect x="283" y="533" width="1" height="2" fill="#000"/>
<rect x="316" y="757" width="1" height="4" fill="#000"/>
<rect x="316" y="533" width="1" height="4" fill="#000"/>
<text transform="translate(299.4 776.7) scale(1.1 1)" font-size="10.6" fill="#000" textLength="30.9" lengthAdjust="spacing" >08/18</text>
<rect x="350" y="759" width="1" height="2" fill="#000"/>
<rect x="350" y="533" width="1" height="2" fill="#000"/>
<rect x="383" y="759" width="1" height="2" fill="#000"/>
<rect x="383" y="533" width="1" height="2" fill="#000"/>
<rect x="417" y="757" width="1" height="4" fill="#000"/>
<rect x="417" y="533" width="1" height="4" fill="#000"/>
<text transform="translate(400.4 776.7) scale(1.1 1)" font-size="10.6" fill="#000" textLength="30.9" lengthAdjust="spacing" >08/21</text>
<rect x="450" y="759" width="1" height="2" fill="#000"/>
<rect x="450" y="533" width="1" height="2" fill="#000"/>
<rect x="483" y="759" width="1" height="2" fill="#000"/>
<rect x="483" y="533" width="1" height="2" fill="#000"/>
<rect x="517" y="757" width="1" height="4" fill="#000"/>
<rect x="517" y="533" width="1" height="4" fill="#000"/>
<text transform="translate(500.4 776.7) scale(1.1 1)" font-size="10.6" fill="#000" textLength="30.9" lengthAdjust="spacing" >08/24</text>
<rect x="550" y="759" width="1" height="2" fill="#000"/>
<rect x="550" y="533" width="1" height="2" fill="#000"/>
<text transform="translate(19.3 695.8) rotate(-90)" font-size="10.6" fill="#000" textLength="26.3" lengthAdjust="spacingAndGlyphs">GOES</text>
<text transform="translate(19.3 662.8) rotate(-90) scale(1.1 1)" font-size="10.6" fill="#000" textLength="28.6" lengthAdjust="spacing">X&#8722;ray</text>
<text transform="translate(19.3 626.8) rotate(-90)" font-size="10.6" fill="#000" textLength="28.1" lengthAdjust="spacingAndGlyphs">Class</text>
<text x="480.8" y="790.8" font-size="11.2" fill="#000" textLength="48.1" lengthAdjust="spacingAndGlyphs" >Prepared</text>
<text x="535.4" y="790.8" font-size="11.2" fill="#000" textLength="11.5" lengthAdjust="spacingAndGlyphs" >by</text>
<text x="554.0" y="790.8" font-size="11.2" fill="#000" textLength="29.1" lengthAdjust="spacingAndGlyphs" >HELIO</text>
<rect x="51" y="743" width="1" height="3" fill="#ff0000"/>
<rect x="52" y="743" width="1" height="3" fill="#ff0000"/>
<rect x="53" y="737" width="1" height="9" fill="#ff0000"/>
<rect x="54" y="741" width="1" height="5" fill="#ff0000"/>
<rect x="55" y="742" width="1" height="4" fill="#ff0000"/>
<rect x="56" y="740" width="1" height="6" fill="#ff0000"/>
<rect x="57" y="743" width="1" height="3" fill="#ff0000"/>
<rect x="58" y="743" width="1" height="3" fill="#ff0000"/>
<rect x="59" y="742" width="1" height="4" fill="#ff0000"/>
<rect x="60" y="739" width="1" height="7" fill="#ff0000"/>
<rect x="61" y="732" width="1" height="9" fill="#ff0000"/>
<rect x="62" y="729" width="1" height="8" fill="#ff0000"/>
<rect x="63" y="732" width="1" height="7" fill="#ff0000"/>
<rect x="64" y="735" width="1" height="4" fill="#ff0000"/>
<rect x="65" y="729" width="1" height="10" fill="#ff0000"/>
<rect x="66" y="727" width="1" height="12" fill="#ff0000"/>
<rect x="67" y="734" width="1" height="8" fill="#ff0000"/>
<rect x="68" y="738" width="1" height="5" fill="#ff0000"/>
<rect x="69" y="740" width="1" height="3" fill="#ff0000"/>
<rect x="70" y="740" width="1" height="3" fill="#ff0000"/>
<rect x="71" y="734" width="1" height="9" fill="#ff0000"/>
<rect x="72" y="729" width="1" height="12" fill="#ff0000"/>
<rect x="73" y="732" width="1" height="7" fill="#ff0000"/>
<rect x="74" y="734" width="1" height="9" fill="#ff0000"/>
<rect x="75" y="738" width="1" height="5" fill="#ff0000"/>
<rect x="76" y="739" width="1" height="4" fill="#ff0000"/>
<rect x="77" y="739" width="1" height="3" fill="#ff0000"/>
<rect x="78" y="736" width="1" height="4" fill="#ff0000"/>
<rect x="79" y="733" width="1" height="7" fill="#ff0000"/>
<rect x="80" y="734" width="1" height="7" fill="#ff0000"/>
<rect x="81" y="738" width="1" height="3" fill="#ff0000"/>
<rect x="82" y="702" width="1" height="39" fill="#ff0000"/>
<rect x="83" y="711" width="1" height="28" fill="#ff0000"/>
<rect x="84" y="702" width="1" height="22" fill="#ff0000"/>
<rect x="85" y="709" width="1" height="21" fill="#ff0000"/>
<rect x="86" y="721" width="1" height="9" fill="#ff0000"/>
<rect x="87" y="719" width="1" height="16" fill="#ff0000"/>
<rect x="88" y="727" width="1" height="12" fill="#ff0000"/>
<rect x="89" y="714" width="1" height="25" fill="#ff0000"/>
<rect x="90" y="706" width="1" height="18" fill="#ff0000"/>
<rect x="91" y="716" width="1" height="18" fill="#ff0000"/>
<rect x="92" y="725" width="1" height="9" fill="#ff0000"/>
<rect x="93" y="712" width="1" height="21" fill="#ff0000"/>
<rect x="94" y="710" width="1" height="16" fill="#ff0000"/>
<rect x="95" y="720" width="1" height="4" fill="#ff0000"/>
<rect x="96" y="718" width="1" height="13" fill="#ff0000"/>
<rect x="97" y="723" width="1" height="12" fill="#ff0000"/>
<rect x="98" y="730" width="1" height="6" fill="#ff0000"/>
<rect x="99" y="726" width="1" height="10" fill="#ff0000"/>
<rect x="100" y="717" width="1" height="19" fill="#ff0000"/>
<rect x="101" y="714" width="1" height="21" fill="#ff0000"/>
<rect x="102" y="698" width="1" height="24" fill="#ff0000"/>
<rect x="103" y="693" width="1" height="17" fill="#ff0000"/>
<rect x="104" y="702" width="1" height="31" fill="#ff0000"/>
<rect x="105" y="720" width="1" height="13" fill="#ff0000"/>
<rect x="106" y="705" width="1" height="23" fill="#ff0000"/>
<rect x="107" y="710" width="1" height="19" fill="#ff0000"/>
<rect x="108" y="721" width="1" height="12" fill="#ff0000"/>
<rect x="109" y="714" width="1" height="19" fill="#ff0000"/>
<rect x="110" y="692" width="1" height="41" fill="#ff0000"/>
<rect x="111" y="712" width="1" height="21" fill="#ff0000"/>
<rect x="112" y="667" width="1" height="39" fill="#ff0000"/>
<rect x="113" y="662" width="1" height="40" fill="#ff0000"/>
<rect x="114" y="681" width="1" height="42" fill="#ff0000"/>
<rect x="115" y="707" width="1" height="21" fill="#ff0000"/>
<rect x="116" y="710" width="1" height="20" fill="#ff0000"/>
<rect x="117" y="720" width="1" height="12" fill="#ff0000"/>
<rect x="118" y="728" width="1" height="5" fill="#ff0000"/>
<rect x="119" y="730" width="1" height="3" fill="#ff0000"/>
<rect x="120" y="724" width="1" height="9" fill="#ff0000"/>
<rect x="121" y="720" width="1" height="13" fill="#ff0000"/>
<rect x="122" y="725" width="1" height="13" fill="#ff0000"/>
<rect x="123" y="732" width="1" height="6" fill="#ff0000"/>
<rect x="124" y="736" width="1" height="3" fill="#ff0000"/>
<rect x="125" y="734" width="1" height="5" fill="#ff0000"/>
<rect x="126" y="732" width="1" height="7" fill="#ff0000"/>
<rect x="127" y="735" width="1" height="2" fill="#ff0000"/>
<rect x="128" y="735" width="1" height="2" fill="#ff0000"/>
<rect x="129" y="730" width="1" height="8" fill="#ff0000"/>
<rect x="130" y="682" width="1" height="54" fill="#ff0000"/>
<rect x="131" y="649" width="1" height="42" fill="#ff0000"/>
<rect x="132" y="695" width="1" height="26" fill="#ff0000"/>
<rect x="133" y="714" width="1" height="13" fill="#ff0000"/>
<rect x="134" y="721" width="1" height="8" fill="#ff0000"/>
<rect x="135" y="725" width="1" height="8" fill="#ff0000"/>
<rect x="136" y="728" width="1" height="6" fill="#ff0000"/>
<rect x="137" y="731" width="1" height="3" fill="#ff0000"/>
<rect x="138" y="731" width="1" height="3" fill="#ff0000"/>
<rect x="139" y="729" width="1" height="5" fill="#ff0000"/>
<rect x="140" y="722" width="1" height="10" fill="#ff0000"/>
<rect x="141" y="719" width="1" height="11" fill="#ff0000"/>
<rect x="142" y="724" width="1" height="6" fill="#ff0000"/>
<rect x="143" y="721" width="1" height="9" fill="#ff0000"/>
<rect x="144" y="717" width="1" height="10" fill="#ff0000"/>
<rect x="145" y="715" width="1" height="13" fill="#ff0000"/>
<rect x="146" y="720" width="1" height="13" fill="#ff0000"/>
<rect x="147" y="728" width="1" height="5" fill="#ff0000"/>
<rect x="148" y="726" width="1" height="7" fill="#ff0000"/>
<rect x="149" y="724" width="1" height="8" fill="#ff0000"/>
<rect x="150" y="725" width="1" height="2" fill="#ff0000"/>
<rect x="151" y="723" width="1" height="4" fill="#ff0000"/>
<rect x="152" y="719" width="1" height="8" fill="#ff0000"/>
<rect x="153" y="719" width="1" height="8" fill="#ff0000"/>
<rect x="154" y="723" width="1" height="4" fill="#ff0000"/>
<rect x="155" y="725" width="1" height="2" fill="#ff0000"/>
<rect x="156" y="712" width="1" height="15" fill="#ff0000"/>
<rect x="157" y="708" width="1" height="19" fill="#ff0000"/>
<rect x="158" y="720" width="1" height="5" fill="#ff0000"/>
<rect x="159" y="718" width="1" height="11" fill="#ff0000"/>
<rect x="160" y="723" width="1" height="6" fill="#ff0000"/>
<rect x="161" y="726" width="1" height="3" fill="#ff0000"/>
<rect x="162" y="723" width="1" height="6" fill="#ff0000"/>
<rect x="163" y="718" width="1" height="10" fill="#ff0000"/>
<rect x="164" y="716" width="1" height="8" fill="#ff0000"/>
<rect x="165" y="693" width="1" height="26" fill="#ff0000"/>
<rect x="166" y="686" width="1" height="33" fill="#ff0000"/>
<rect x="167" y="711" width="1" height="12" fill="#ff0000"/>
<rect x="168" y="720" width="1" height="3" fill="#ff0000"/>
<rect x="169" y="720" width="1" height="3" fill="#ff0000"/>
<rect x="170" y="703" width="1" height="19" fill="#ff0000"/>
<rect x="171" y="699" width="1" height="22" fill="#ff0000"/>
<rect x="172" y="705" width="1" height="14" fill="#ff0000"/>
<rect x="173" y="696" width="1" height="20" fill="#ff0000"/>
<rect x="174" y="692" width="1" height="25" fill="#ff0000"/>
<rect x="175" y="676" width="1" height="24" fill="#ff0000"/>
<rect x="176" y="684" width="1" height="33" fill="#ff0000"/>
<rect x="177" y="711" width="1" height="6" fill="#ff0000"/>
<rect x="178" y="688" width="1" height="29" fill="#ff0000"/>
<rect x="179" y="677" width="1" height="19" fill="#ff0000"/>
<rect x="180" y="687" width="1" height="33" fill="#ff0000"/>
<rect x="181" y="711" width="1" height="9" fill="#ff0000"/>
<rect x="182" y="687" width="1" height="32" fill="#ff0000"/>
<rect x="183" y="674" width="1" height="21" fill="#ff0000"/>
<rect x="184" y="686" width="1" height="29" fill="#ff0000"/>
<rect x="185" y="706" width="1" height="9" fill="#ff0000"/>
<rect x="186" y="700" width="1" height="18" fill="#ff0000"/>
<rect x="187" y="710" width="1" height="10" fill="#ff0000"/>
<rect x="188" y="710" width="1" height="10" fill="#ff0000"/>
<rect x="189" y="710" width="1" height="6" fill="#ff0000"/>
<rect x="190" y="711" width="1" height="3" fill="#ff0000"/>
<rect x="191" y="711" width="1" height="10" fill="#ff0000"/>
<rect x="192" y="713" width="1" height="15" fill="#ff0000"/>
<rect x="193" y="720" width="1" height="10" fill="#ff0000"/>
<rect x="194" y="720" width="1" height="10" fill="#ff0000"/>
<rect x="195" y="719" width="1" height="9" fill="#ff0000"/>
<rect x="196" y="708" width="1" height="13" fill="#ff0000"/>
<rect x="197" y="701" width="1" height="15" fill="#ff0000"/>
<rect x="198" y="701" width="1" height="11" fill="#ff0000"/>
<rect x="199" y="704" width="1" height="16" fill="#ff0000"/>
<rect x="200" y="715" width="1" height="10" fill="#ff0000"/>
<rect x="201" y="719" width="1" height="10" fill="#ff0000"/>
<rect x="202" y="724" width="1" height="7" fill="#ff0000"/>
<rect x="203" y="728" width="1" height="3" fill="#ff0000"/>
<rect x="204" y="728" width="1" height="3" fill="#ff0000"/>
<rect x="205" y="691" width="1" height="40" fill="#ff0000"/>
<rect x="206" y="682" width="1" height="17" fill="#ff0000"/>
<rect x="207" y="688" width="1" height="19" fill="#ff0000"/>
<rect x="208" y="699" width="1" height="26" fill="#ff0000"/>
<rect x="209" y="714" width="1" height="11" fill="#ff0000"/>
<rect x="210" y="708" width="1" height="14" fill="#ff0000"/>
<rect x="211" y="709" width="1" height="17" fill="#ff0000"/>
<rect x="212" y="718" width="1" height="9" fill="#ff0000"/>
<rect x="213" y="711" width="1" height="16" fill="#ff0000"/>
<rect x="214" y="702" width="1" height="17" fill="#ff0000"/>
<rect x="215" y="700" width="1" height="23" fill="#ff0000"/>
<rect x="216" y="715" width="1" height="17" fill="#ff0000"/>
<rect x="217" y="726" width="1" height="7" fill="#ff0000"/>
<rect x="218" y="730" width="1" height="3" fill="#ff0000"/>
<rect x="219" y="730" width="1" height="3" fill="#ff0000"/>
<rect x="220" y="730" width="1" height="3" fill="#ff0000"/>
<rect x="221" y="730" width="1" height="3" fill="#ff0000"/>
<rect x="222" y="727" width="1" height="6" fill="#ff0000"/>
<rect x="223" y="723" width="1" height="9" fill="#ff0000"/>
<rect x="224" y="721" width="1" height="7" fill="#ff0000"/>
<rect x="225" y="718" width="1" height="6" fill="#ff0000"/>
<rect x="226" y="718" width="1" height="7" fill="#ff0000"/>
<rect x="227" y="722" width="1" height="3" fill="#ff0000"/>
<rect x="228" y="722" width="1" height="3" fill="#ff0000"/>
<rect x="229" y="723" width="1" height="3" fill="#ff0000"/>
<rect x="230" y="723" width="1" height="6" fill="#ff0000"/>
<rect x="231" y="725" width="1" height="5" fill="#ff0000"/>
<rect x="232" y="727" width="1" height="3" fill="#ff0000"/>
<rect x="233" y="713" width="1" height="17" fill="#ff0000"/>
<rect x="234" y="712" width="1" height="18" fill="#ff0000"/>
<rect x="235" y="723" width="1" height="7" fill="#ff0000"/>
<rect x="236" y="727" width="1" height="3" fill="#ff0000"/>
<rect x="237" y="719" width="1" height="11" fill="#ff0000"/>
<rect x="238" y="718" width="1" height="11" fill="#ff0000"/>
<rect x="239" y="717" width="1" height="9" fill="#ff0000"/>
<rect x="240" y="702" width="1" height="23" fill="#ff0000"/>
<rect x="241" y="693" width="1" height="17" fill="#ff0000"/>
<rect x="242" y="699" width="1" height="20" fill="#ff0000"/>
<rect x="243" y="712" width="1" height="17" fill="#ff0000"/>
<rect x="244" y="722" width="1" height="7" fill="#ff0000"/>
<rect x="245" y="727" width="1" height="2" fill="#ff0000"/>
<rect x="246" y="726" width="1" height="3" fill="#ff0000"/>
<rect x="247" y="686" width="1" height="43" fill="#ff0000"/>
<rect x="248" y="708" width="1" height="19" fill="#ff0000"/>
<rect x="249" y="724" width="1" height="3" fill="#ff0000"/>
<rect x="250" y="722" width="1" height="5" fill="#ff0000"/>
<rect x="251" y="720" width="1" height="6" fill="#ff0000"/>
<rect x="252" y="718" width="1" height="8" fill="#ff0000"/>
<rect x="253" y="721" width="1" height="5" fill="#ff0000"/>
<rect x="254" y="720" width="1" height="8" fill="#ff0000"/>
<rect x="255" y="720" width="1" height="10" fill="#ff0000"/>
<rect x="256" y="727" width="1" height="3" fill="#ff0000"/>
<rect x="257" y="726" width="1" height="5" fill="#ff0000"/>
<rect x="258" y="726" width="1" height="8" fill="#ff0000"/>
<rect x="259" y="730" width="1" height="4" fill="#ff0000"/>
<rect x="260" y="730" width="1" height="4" fill="#ff0000"/>
<rect x="261" y="729" width="1" height="6" fill="#ff0000"/>
<rect x="262" y="729" width="1" height="6" fill="#ff0000"/>
<rect x="263" y="723" width="1" height="12" fill="#ff0000"/>
<rect x="264" y="729" width="1" height="6" fill="#ff0000"/>
<rect x="265" y="727" width="1" height="8" fill="#ff0000"/>
<rect x="266" y="719" width="1" height="14" fill="#ff0000"/>
<rect x="267" y="699" width="1" height="28" fill="#ff0000"/>
<rect x="268" y="688" width="1" height="36" fill="#ff0000"/>
<rect x="269" y="715" width="1" height="12" fill="#ff0000"/>
<rect x="270" y="713" width="1" height="17" fill="#ff0000"/>
<rect x="271" y="726" width="1" height="5" fill="#ff0000"/>
<rect x="272" y="728" width="1" height="3" fill="#ff0000"/>
<rect x="273" y="728" width="1" height="3" fill="#ff0000"/>
<rect x="274" y="728" width="1" height="3" fill="#ff0000"/>
<rect x="275" y="722" width="1" height="8" fill="#ff0000"/>
<rect x="276" y="721" width="1" height="9" fill="#ff0000"/>
<rect x="277" y="721" width="1" height="3" fill="#ff0000"/>
<rect x="278" y="720" width="1" height="4" fill="#ff0000"/>
<rect x="279" y="719" width="1" height="6" fill="#ff0000"/>
<rect x="280" y="722" width="1" height="3" fill="#ff0000"/>
<rect x="281" y="723" width="1" height="3" fill="#ff0000"/>
<rect x="282" y="723" width="1" height="7" fill="#ff0000"/>
<rect x="283" y="725" width="1" height="6" fill="#ff0000"/>
<rect x="284" y="725" width="1" height="6" fill="#ff0000"/>
<rect x="285" y="720" width="1" height="11" fill="#ff0000"/>
<rect x="286" y="723" width="1" height="6" fill="#ff0000"/>
<rect x="287" y="711" width="1" height="18" fill="#ff0000"/>
<rect x="288" y="703" width="1" height="25" fill="#ff0000"/>
<rect x="289" y="723" width="1" height="6" fill="#ff0000"/>
<rect x="290" y="727" width="1" height="2" fill="#ff0000"/>
<rect x="291" y="727" width="1" height="2" fill="#ff0000"/>
<rect x="292" y="726" width="1" height="3" fill="#ff0000"/>
<rect x="293" y="726" width="1" height="5" fill="#ff0000"/>
<rect x="294" y="727" width="1" height="5" fill="#ff0000"/>
<rect x="295" y="730" width="1" height="3" fill="#ff0000"/>
<rect x="296" y="728" width="1" height="5" fill="#ff0000"/>
<rect x="297" y="713" width="1" height="20" fill="#ff0000"/>
<rect x="298" y="713" width="1" height="11" fill="#ff0000"/>
<rect x="299" y="716" width="1" height="14" fill="#ff0000"/>
<rect x="300" y="727" width="1" height="3" fill="#ff0000"/>
<rect x="301" y="703" width="1" height="27" fill="#ff0000"/>
<rect x="302" y="696" width="1" height="15" fill="#ff0000"/>
<rect x="303" y="698" width="1" height="21" fill="#ff0000"/>
<rect x="304" y="711" width="1" height="18" fill="#ff0000"/>
<rect x="305" y="725" width="1" height="5" fill="#ff0000"/>
<rect x="306" y="726" width="1" height="4" fill="#ff0000"/>
<rect x="307" y="722" width="1" height="7" fill="#ff0000"/>
<rect x="308" y="649" width="1" height="74" fill="#ff0000"/>
<rect x="309" y="632" width="1" height="32" fill="#ff0000"/>
<rect x="310" y="650" width="1" height="14" fill="#ff0000"/>
<rect x="311" y="652" width="1" height="24" fill="#ff0000"/>
<rect x="312" y="675" width="1" height="14" fill="#ff0000"/>
<rect x="313" y="687" width="1" height="8" fill="#ff0000"/>
<rect x="314" y="692" width="1" height="10" fill="#ff0000"/>
<rect x="315" y="697" width="1" height="8" fill="#ff0000"/>
<rect x="316" y="701" width="1" height="9" fill="#ff0000"/>
<rect x="317" y="704" width="1" height="9" fill="#ff0000"/>
<rect x="318" y="709" width="1" height="6" fill="#ff0000"/>
<rect x="319" y="712" width="1" height="4" fill="#ff0000"/>
<rect x="320" y="714" width="1" height="2" fill="#ff0000"/>
<rect x="321" y="713" width="1" height="3" fill="#ff0000"/>
<rect x="322" y="713" width="1" height="3" fill="#ff0000"/>
<rect x="323" y="713" width="1" height="7" fill="#ff0000"/>
<rect x="324" y="713" width="1" height="9" fill="#ff0000"/>
<rect x="325" y="719" width="1" height="3" fill="#ff0000"/>
<rect x="326" y="719" width="1" height="3" fill="#ff0000"/>
<rect x="327" y="719" width="1" height="3" fill="#ff0000"/>
<rect x="328" y="719" width="1" height="3" fill="#ff0000"/>
<rect x="329" y="719" width="1" height="2" fill="#ff0000"/>
<rect x="330" y="719" width="1" height="2" fill="#ff0000"/>
<rect x="331" y="704" width="1" height="17" fill="#ff0000"/>
<rect x="332" y="700" width="1" height="12" fill="#ff0000"/>
<rect x="333" y="700" width="1" height="25" fill="#ff0000"/>
<rect x="334" y="717" width="1" height="8" fill="#ff0000"/>
<rect x="335" y="713" width="1" height="13" fill="#ff0000"/>
<rect x="336" y="721" width="1" height="5" fill="#ff0000"/>
<rect x="337" y="718" width="1" height="8" fill="#ff0000"/>
<rect x="338" y="720" width="1" height="7" fill="#ff0000"/>
<rect x="339" y="723" width="1" height="4" fill="#ff0000"/>
<rect x="340" y="712" width="1" height="17" fill="#ff0000"/>
<rect x="341" y="722" width="1" height="8" fill="#ff0000"/>
<rect x="342" y="721" width="1" height="9" fill="#ff0000"/>
<rect x="343" y="715" width="1" height="15" fill="#ff0000"/>
<rect x="344" y="721" width="1" height="6" fill="#ff0000"/>
<rect x="345" y="718" width="1" height="9" fill="#ff0000"/>
<rect x="346" y="719" width="1" height="5" fill="#ff0000"/>
<rect x="347" y="715" width="1" height="9" fill="#ff0000"/>
<rect x="348" y="712" width="1" height="14" fill="#ff0000"/>
<rect x="349" y="718" width="1" height="10" fill="#ff0000"/>
<rect x="350" y="725" width="1" height="4" fill="#ff0000"/>
<rect x="351" y="726" width="1" height="3" fill="#ff0000"/>
<rect x="352" y="725" width="1" height="4" fill="#ff0000"/>
<rect x="353" y="725" width="1" height="5" fill="#ff0000"/>
<rect x="354" y="727" width="1" height="4" fill="#ff0000"/>
<rect x="355" y="728" width="1" height="3" fill="#ff0000"/>
<rect x="356" y="718" width="1" height="13" fill="#ff0000"/>
<rect x="357" y="722" width="1" height="9" fill="#ff0000"/>
<rect x="358" y="729" width="1" height="2" fill="#ff0000"/>
<rect x="359" y="729" width="1" height="2" fill="#ff0000"/>
<rect x="360" y="729" width="1" height="2" fill="#ff0000"/>
<rect x="361" y="729" width="1" height="2" fill="#ff0000"/>
<rect x="362" y="725" width="1" height="6" fill="#ff0000"/>
<rect x="363" y="692" width="1" height="38" fill="#ff0000"/>
<rect x="364" y="724" width="1" height="3" fill="#ff0000"/>
<rect x="365" y="716" width="1" height="11" fill="#ff0000"/>
<rect x="366" y="710" width="1" height="15" fill="#ff0000"/>
<rect x="367" y="717" width="1" height="12" fill="#ff0000"/>
<rect x="368" y="725" width="1" height="4" fill="#ff0000"/>
<rect x="369" y="722" width="1" height="8" fill="#ff0000"/>
<rect x="370" y="723" width="1" height="7" fill="#ff0000"/>
<rect x="371" y="720" width="1" height="10" fill="#ff0000"/>
<rect x="372" y="719" width="1" height="10" fill="#ff0000"/>
<rect x="373" y="725" width="1" height="4" fill="#ff0000"/>
<rect x="374" y="718" width="1" height="11" fill="#ff0000"/>
<rect x="375" y="718" width="1" height="11" fill="#ff0000"/>
<rect x="376" y="723" width="1" height="6" fill="#ff0000"/>
<rect x="377" y="717" width="1" height="12" fill="#ff0000"/>
<rect x="378" y="716" width="1" height="12" fill="#ff0000"/>
<rect x="379" y="718" width="1" height="10" fill="#ff0000"/>
<rect x="380" y="710" width="1" height="16" fill="#ff0000"/>
<rect x="381" y="717" width="1" height="10" fill="#ff0000"/>
<rect x="382" y="722" width="1" height="5" fill="#ff0000"/>
<rect x="383" y="714" width="1" height="13" fill="#ff0000"/>
<rect x="384" y="713" width="1" height="12" fill="#ff0000"/>
<rect x="385" y="696" width="1" height="32" fill="#ff0000"/>
<rect x="386" y="724" width="1" height="5" fill="#ff0000"/>
<rect x="387" y="726" width="1" height="3" fill="#ff0000"/>
<rect x="388" y="723" width="1" height="6" fill="#ff0000"/>
<rect x="389" y="724" width="1" height="5" fill="#ff0000"/>
<rect x="390" y="716" width="1" height="13" fill="#ff0000"/>
<rect x="391" y="704" width="1" height="20" fill="#ff0000"/>
<rect x="392" y="705" width="1" height="12" fill="#ff0000"/>
<rect x="393" y="706" width="1" height="9" fill="#ff0000"/>
<rect x="394" y="702" width="1" height="13" fill="#ff0000"/>
<rect x="395" y="708" width="1" height="7" fill="#ff0000"/>
<rect x="396" y="702" width="1" height="13" fill="#ff0000"/>
<rect x="397" y="698" width="1" height="13" fill="#ff0000"/>
<rect x="398" y="706" width="1" height="8" fill="#ff0000"/>
<rect x="399" y="710" width="1" height="8" fill="#ff0000"/>
<rect x="400" y="713" width="1" height="7" fill="#ff0000"/>
<rect x="401" y="717" width="1" height="5" fill="#ff0000"/>
<rect x="402" y="719" width="1" height="4" fill="#ff0000"/>
<rect x="403" y="720" width="1" height="3" fill="#ff0000"/>
<rect x="404" y="720" width="1" height="3" fill="#ff0000"/>
<rect x="405" y="722" width="1" height="5" fill="#ff0000"/>
<rect x="406" y="722" width="1" height="5" fill="#ff0000"/>
<rect x="407" y="721" width="1" height="6" fill="#ff0000"/>
<rect x="408" y="718" width="1" height="9" fill="#ff0000"/>
<rect x="409" y="716" width="1" height="8" fill="#ff0000"/>
<rect x="410" y="721" width="1" height="4" fill="#ff0000"/>
<rect x="411" y="722" width="1" height="3" fill="#ff0000"/>
<rect x="412" y="711" width="1" height="14" fill="#ff0000"/>
<rect x="413" y="722" width="1" height="4" fill="#ff0000"/>
<rect x="414" y="723" width="1" height="6" fill="#ff0000"/>
<rect x="415" y="725" width="1" height="4" fill="#ff0000"/>
<rect x="416" y="724" width="1" height="5" fill="#ff0000"/>
<rect x="417" y="722" width="1" height="6" fill="#ff0000"/>
<rect x="418" y="720" width="1" height="5" fill="#ff0000"/>
<rect x="419" y="720" width="1" height="5" fill="#ff0000"/>
<rect x="420" y="715" width="1" height="10" fill="#ff0000"/>
<rect x="421" y="713" width="1" height="10" fill="#ff0000"/>
<rect x="422" y="705" width="1" height="16" fill="#ff0000"/>
<rect x="423" y="706" width="1" height="9" fill="#ff0000"/>
<rect x="424" y="700" width="1" height="17" fill="#ff0000"/>
<rect x="425" y="710" width="1" height="7" fill="#ff0000"/>
<rect x="426" y="703" width="1" height="14" fill="#ff0000"/>
<rect x="427" y="692" width="1" height="19" fill="#ff0000"/>
<rect x="428" y="693" width="1" height="16" fill="#ff0000"/>
<rect x="429" y="701" width="1" height="20" fill="#ff0000"/>
<rect x="430" y="713" width="1" height="10" fill="#ff0000"/>
<rect x="431" y="720" width="1" height="4" fill="#ff0000"/>
<rect x="432" y="720" width="1" height="5" fill="#ff0000"/>
<rect x="433" y="706" width="1" height="20" fill="#ff0000"/>
<rect x="434" y="724" width="1" height="3" fill="#ff0000"/>
<rect x="435" y="723" width="1" height="4" fill="#ff0000"/>
<rect x="436" y="718" width="1" height="9" fill="#ff0000"/>
<rect x="437" y="718" width="1" height="8" fill="#ff0000"/>
<rect x="438" y="721" width="1" height="5" fill="#ff0000"/>
<rect x="439" y="716" width="1" height="10" fill="#ff0000"/>
<rect x="440" y="713" width="1" height="9" fill="#ff0000"/>
<rect x="441" y="715" width="1" height="4" fill="#ff0000"/>
<rect x="442" y="716" width="1" height="9" fill="#ff0000"/>
<rect x="443" y="716" width="1" height="11" fill="#ff0000"/>
<rect x="444" y="724" width="1" height="4" fill="#ff0000"/>
<rect x="445" y="726" width="1" height="2" fill="#ff0000"/>
<rect x="446" y="726" width="1" height="3" fill="#ff0000"/>
<rect x="447" y="726" width="1" height="3" fill="#ff0000"/>
<rect x="448" y="725" width="1" height="4" fill="#ff0000"/>
<rect x="449" y="710" width="1" height="18" fill="#ff0000"/>
<rect x="450" y="713" width="1" height="13" fill="#ff0000"/>
<rect x="451" y="710" width="1" height="11" fill="#ff0000"/>
<rect x="452" y="712" width="1" height="11" fill="#ff0000"/>
<rect x="453" y="717" width="1" height="6" fill="#ff0000"/>
<rect x="454" y="716" width="1" height="8" fill="#ff0000"/>
<rect x="455" y="716" width="1" height="9" fill="#ff0000"/>
<rect x="456" y="718" width="1" height="7" fill="#ff0000"/>
<rect x="457" y="678" width="1" height="48" fill="#ff0000"/>
<rect x="458" y="694" width="1" height="32" fill="#ff0000"/>
<rect x="459" y="723" width="1" height="4" fill="#ff0000"/>
<rect x="460" y="723" width="1" height="4" fill="#ff0000"/>
<rect x="461" y="722" width="1" height="5" fill="#ff0000"/>
<rect x="462" y="715" width="1" height="12" fill="#ff0000"/>
<rect x="463" y="711" width="1" height="12" fill="#ff0000"/>
<rect x="464" y="715" width="1" height="4" fill="#ff0000"/>
<rect x="465" y="709" width="1" height="10" fill="#ff0000"/>
<rect x="466" y="702" width="1" height="15" fill="#ff0000"/>
<rect x="467" y="702" width="1" height="15" fill="#ff0000"/>
<rect x="468" y="703" width="1" height="14" fill="#ff0000"/>
<rect x="469" y="689" width="1" height="27" fill="#ff0000"/>
<rect x="470" y="706" width="1" height="7" fill="#ff0000"/>
<rect x="471" y="706" width="1" height="9" fill="#ff0000"/>
<rect x="472" y="711" width="1" height="4" fill="#ff0000"/>
<rect x="473" y="708" width="1" height="12" fill="#ff0000"/>
<rect x="474" y="712" width="1" height="8" fill="#ff0000"/>
<rect x="475" y="714" width="1" height="6" fill="#ff0000"/>
<rect x="476" y="714" width="1" height="5" fill="#ff0000"/>
<rect x="477" y="700" width="1" height="17" fill="#ff0000"/>
<rect x="478" y="703" width="1" height="21" fill="#ff0000"/>
<rect x="479" y="716" width="1" height="8" fill="#ff0000"/>
<rect x="480" y="699" width="1" height="25" fill="#ff0000"/>
<rect x="481" y="695" width="1" height="12" fill="#ff0000"/>
<rect x="482" y="699" width="1" height="18" fill="#ff0000"/>
<rect x="483" y="710" width="1" height="7" fill="#ff0000"/>
<rect x="484" y="695" width="1" height="22" fill="#ff0000"/>
<rect x="485" y="696" width="1" height="17" fill="#ff0000"/>
<rect x="486" y="705" width="1" height="13" fill="#ff0000"/>
<rect x="487" y="713" width="1" height="8" fill="#ff0000"/>
<rect x="488" y="717" width="1" height="8" fill="#ff0000"/>
<rect x="489" y="720" width="1" height="5" fill="#ff0000"/>
<rect x="490" y="718" width="1" height="7" fill="#ff0000"/>
<rect x="491" y="718" width="1" height="6" fill="#ff0000"/>
<rect x="492" y="714" width="1" height="10" fill="#ff0000"/>
<rect x="493" y="707" width="1" height="17" fill="#ff0000"/>
<rect x="494" y="718" width="1" height="6" fill="#ff0000"/>
<rect x="495" y="715" width="1" height="10" fill="#ff0000"/>
<rect x="496" y="722" width="1" height="3" fill="#ff0000"/>
<rect x="497" y="720" width="1" height="6" fill="#ff0000"/>
<rect x="498" y="722" width="1" height="5" fill="#ff0000"/>
<rect x="499" y="725" width="1" height="2" fill="#ff0000"/>
<rect x="500" y="717" width="1" height="10" fill="#ff0000"/>
<rect x="501" y="715" width="1" height="12" fill="#ff0000"/>
<rect x="502" y="722" width="1" height="3" fill="#ff0000"/>
<rect x="503" y="721" width="1" height="4" fill="#ff0000"/>
<rect x="504" y="716" width="1" height="8" fill="#ff0000"/>
<rect x="505" y="707" width="1" height="15" fill="#ff0000"/>
<rect x="506" y="702" width="1" height="13" fill="#ff0000"/>
<rect x="507" y="706" width="1" height="19" fill="#ff0000"/>
<rect x="508" y="717" width="1" height="12" fill="#ff0000"/>
<rect x="509" y="725" width="1" height="5" fill="#ff0000"/>
<rect x="510" y="727" width="1" height="3" fill="#ff0000"/>
<rect x="511" y="727" width="1" height="3" fill="#ff0000"/>
<rect x="512" y="725" width="1" height="5" fill="#ff0000"/>
<rect x="513" y="712" width="1" height="18" fill="#ff0000"/>
<rect x="514" y="722" width="1" height="6" fill="#ff0000"/>
<rect x="515" y="722" width="1" height="7" fill="#ff0000"/>
<rect x="516" y="726" width="1" height="3" fill="#ff0000"/>
<rect x="517" y="723" width="1" height="6" fill="#ff0000"/>
<rect x="518" y="723" width="1" height="4" fill="#ff0000"/>
<rect x="519" y="720" width="1" height="6" fill="#ff0000"/>
<rect x="520" y="717" width="1" height="11" fill="#ff0000"/>
<rect x="521" y="724" width="1" height="5" fill="#ff0000"/>
<rect x="522" y="726" width="1" height="3" fill="#ff0000"/>
<rect x="523" y="725" width="1" height="5" fill="#ff0000"/>
<rect x="524" y="725" width="1" height="7" fill="#ff0000"/>
<rect x="525" y="729" width="1" height="3" fill="#ff0000"/>
<rect x="526" y="726" width="1" height="6" fill="#ff0000"/>
<rect x="527" y="724" width="1" height="6" fill="#ff0000"/>
<rect x="528" y="726" width="1" height="4" fill="#ff0000"/>
<rect x="529" y="720" width="1" height="10" fill="#ff0000"/>
<rect x="530" y="717" width="1" height="10" fill="#ff0000"/>
<rect x="531" y="718" width="1" height="8" fill="#ff0000"/>
<rect x="532" y="722" width="1" height="4" fill="#ff0000"/>
<rect x="533" y="722" width="1" height="7" fill="#ff0000"/>
<rect x="534" y="722" width="1" height="8" fill="#ff0000"/>
<rect x="535" y="728" width="1" height="3" fill="#ff0000"/>
<rect x="536" y="728" width="1" height="3" fill="#ff0000"/>
<rect x="537" y="728" width="1" height="4" fill="#ff0000"/>
<rect x="538" y="729" width="1" height="3" fill="#ff0000"/>
<rect x="539" y="728" width="1" height="5" fill="#ff0000"/>
<rect x="540" y="728" width="1" height="5" fill="#ff0000"/>
<rect x="541" y="724" width="1" height="9" fill="#ff0000"/>
<rect x="542" y="725" width="1" height="6" fill="#ff0000"/>
<rect x="543" y="726" width="1" height="6" fill="#ff0000"/>
<rect x="544" y="729" width="1" height="3" fill="#ff0000"/>
<rect x="545" y="729" width="1" height="3" fill="#ff0000"/>
<rect x="546" y="729" width="1" height="3" fill="#ff0000"/>
<rect x="547" y="727" width="1" height="4" fill="#ff0000"/>
<rect x="548" y="726" width="1" height="4" fill="#ff0000"/>
<rect x="549" y="726" width="1" height="5" fill="#ff0000"/>
<rect x="550" y="726" width="1" height="7" fill="#ff0000"/>
<rect x="551" y="730" width="1" height="3" fill="#ff0000"/>
<rect x="552" y="728" width="1" height="5" fill="#ff0000"/>
<rect x="553" y="716" width="1" height="15" fill="#ff0000"/>
<rect x="554" y="717" width="1" height="13" fill="#ff0000"/>
<rect x="555" y="724" width="1" height="6" fill="#ff0000"/>
<rect x="82" y="756" width="1" height="6" fill="#0000ff"/>
<rect x="84" y="757" width="1" height="5" fill="#0000ff"/>
<rect x="90" y="760" width="1" height="2" fill="#0000ff"/>
<rect x="102" y="754" width="1" height="8" fill="#0000ff"/>
<rect x="103" y="748" width="1" height="14" fill="#0000ff"/>
<rect x="110" y="736" width="1" height="26" fill="#0000ff"/>
<rect x="112" y="702" width="1" height="60" fill="#0000ff"/>
<rect x="130" y="723" width="1" height="39" fill="#0000ff"/>
<rect x="131" y="684" width="1" height="78" fill="#0000ff"/>
<rect x="165" y="741" width="1" height="21" fill="#0000ff"/>
<rect x="166" y="732" width="1" height="30" fill="#0000ff"/>
<rect x="171" y="754" width="1" height="8" fill="#0000ff"/>
<rect x="173" y="742" width="1" height="20" fill="#0000ff"/>
<rect x="175" y="710" width="1" height="52" fill="#0000ff"/>
<rect x="176" y="748" width="1" height="14" fill="#0000ff"/>
<rect x="179" y="717" width="1" height="45" fill="#0000ff"/>
<rect x="183" y="713" width="1" height="49" fill="#0000ff"/>
<rect x="186" y="745" width="1" height="17" fill="#0000ff"/>
<rect x="206" y="722" width="1" height="40" fill="#0000ff"/>
<rect x="207" y="753" width="1" height="9" fill="#0000ff"/>
<rect x="208" y="754" width="1" height="8" fill="#0000ff"/>
<rect x="215" y="755" width="1" height="7" fill="#0000ff"/>
<rect x="241" y="738" width="1" height="24" fill="#0000ff"/>
<rect x="247" y="740" width="1" height="22" fill="#0000ff"/>
<rect x="267" y="751" width="1" height="11" fill="#0000ff"/>
<rect x="268" y="730" width="1" height="32" fill="#0000ff"/>
<rect x="288" y="759" width="1" height="3" fill="#0000ff"/>
<rect x="302" y="751" width="1" height="11" fill="#0000ff"/>
<rect x="308" y="681" width="1" height="81" fill="#0000ff"/>
<rect x="332" y="760" width="1" height="2" fill="#0000ff"/>
<rect x="363" y="736" width="1" height="26" fill="#0000ff"/>
<rect x="385" y="737" width="1" height="25" fill="#0000ff"/>
<rect x="397" y="760" width="1" height="2" fill="#0000ff"/>
<rect x="427" y="757" width="1" height="5" fill="#0000ff"/>
<rect x="457" y="726" width="1" height="36" fill="#0000ff"/>
<rect x="469" y="724" width="1" height="38" fill="#0000ff"/>
<rect x="113" y="701" width="1" height="39" fill="#0000ff"/>
<rect x="114" y="739" width="1" height="23" fill="#0000ff"/>
<rect x="132" y="759" width="1" height="3" fill="#0000ff"/>
<rect x="309" y="663" width="1" height="49" fill="#0000ff"/>
<rect x="310" y="696" width="1" height="16" fill="#0000ff"/>
<rect x="311" y="706" width="1" height="34" fill="#0000ff"/>
<rect x="312" y="739" width="1" height="17" fill="#0000ff"/>
<rect x="313" y="755" width="1" height="7" fill="#0000ff"/>
</svg>
</body></html>
